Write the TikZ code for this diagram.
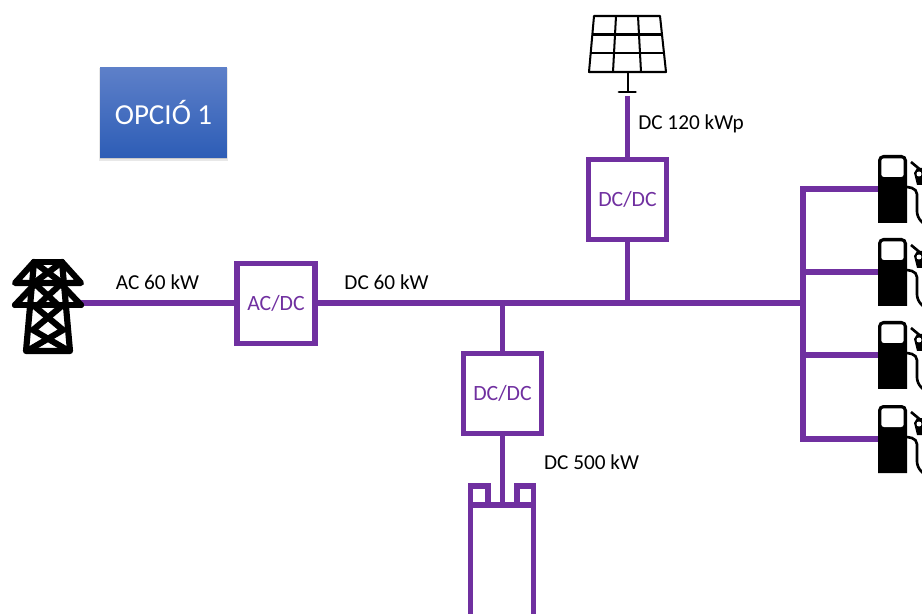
\documentclass[tikz,border=0pt]{standalone}
\usepackage{fontspec}
\setmainfont{Carlito}
\usetikzlibrary{calc,shadows}
\definecolor{buspurple}{HTML}{7030A0}
\definecolor{optA}{HTML}{5E80C9}
\definecolor{optB}{HTML}{2D5DB6}
\tikzset{
	bus/.style={draw=buspurple, line width=3.2pt},
	conv/.style={bus, text=buspurple, minimum width=1.56cm, minimum height=1.6cm, inner sep=0pt, outer sep=0pt, font=\fontsize{12.4}{14}\selectfont},
	lbl/.style={text=black, inner sep=0pt, font=\fontsize{12.1}{14}\selectfont},
	tower/.style={line width=3.5pt, line join=round, line cap=round},
	panel/.style={line width=1.15pt, line join=round},
	optbox/.style={top color=optA, bottom color=optB, draw=none, text=white, minimum width=2.54cm, minimum height=1.82cm,
		drop shadow={shadow xshift=0pt, shadow yshift=-1pt, shadow scale=1.02, opacity=0.18},
		drop shadow={shadow xshift=0pt, shadow yshift=-0.6pt, opacity=0.3},
		font=\fontsize{16.5}{20}\selectfont}
}
\def\pumpicon(#1,#2){
	\fill[black] (#1,#2+68) [rounded corners=3pt] -- (#1,#2) -- (#1+29,#2) [sharp corners] -- (#1+29,#2+68) -- cycle;
	\fill[white, rounded corners=1.5pt] (#1+3.3,#2+3.3) rectangle (#1+25.7,#2+22);
	\draw[line width=1.5pt, rounded corners=3pt] (#1+29,#2+32) -- (#1+39,#2+34) -- (#1+39,#2+62) -- (#1+45,#2+68);
	\draw[line width=1.5pt] (#1+33,#2+7) -- (#1+45,#2+17);
	\fill (#1+36,#2+18) -- (#1+39,#2+13) -- (#1+45,#2+13) -- (#1+45,#2+30) -- (#1+39,#2+30) -- cycle;
	\fill[white] (#1+41,#2+19) circle (2.5);
}
\begin{document}
\begin{tikzpicture}[x=0.02cm, y=-0.02cm]
	\useasboundingbox (0,0) rectangle (922,614);
	%%%%% option box %%%%%
	\node[optbox] (opcio) at (163.5,112.5) {OPCIÓ 1};

	%%%%% converters %%%%%
	\node[conv] (acdc) at (276,303.5) {AC/DC};
	\node[conv] (dcsolar) at (627.5,199.5) {DC/DC};
	\node[conv] (dcbatt) at (502.5,393.5) {DC/DC};

	%%%%% labels %%%%%
	\node[lbl] (lblgrid) at (157.5,282) {AC 60 kW};
	\node[lbl] (lblbus) at (386.5,282) {DC 60 kW};
	\node[lbl] (lblsolar) at (691,124) {DC 120 kWp};
	\node[lbl] (lblbatt) at (591.5,462) {DC 500 kW};

	%%%%% bus %%%%%
	\coordinate (grid) at (80,303);
	\coordinate (tapbatt) at (502.5,303);
	\coordinate (tapsolar) at (627.5,303);
	\coordinate (busend) at (803,303);
	\coordinate (solar) at (627.5,96);
	\coordinate (batt) at (502.5,505);
	\draw[bus] (grid) -- (grid -| acdc.west);
	\draw[bus] (acdc.east |- busend) -- (busend);
	\draw[bus] (tapbatt) -- (dcbatt.north);
	\draw[bus] (tapsolar) -- (dcsolar.south);
	\draw[bus] (solar) -- (dcsolar.north);
	\draw[bus] (dcbatt.south) -- (batt);

	%%%%% charger branches %%%%%
	\coordinate (railtop) at (803,189);
	\coordinate (railbot) at (803,439);
	\draw[bus, line cap=rect] (railtop) -- (railbot);
	\foreach \i/\y in {1/189,2/272,3/355,4/439}{
		\coordinate (pump\i) at (878,\y);
		\draw[bus] (803,\y) -- (pump\i);
		\pumpicon(878,\y-34)
	}

	%%%%% battery %%%%%
	\draw[bus] (470.5,505) rectangle (533.5,620);
	\draw[bus] (470.5,505) -- (470.5,486) -- (488,486) -- (488,505);
	\draw[bus] (517,505) -- (517,486) -- (533.5,486) -- (533.5,505);

	%%%%% pylon %%%%%
	\draw[tower] (34,262) -- (62,262);
	\draw[tower] (34,262) -- (15,283) -- (81,283) -- (62,262);
	\draw[tower] (15,305) -- (33,286) (81,305) -- (63,286);
	\draw[tower] (15,305) -- (81,305);
	\draw[tower] (34,262) -- (26,351) -- (70,351) -- (62,262);
	\draw[tower] (34,262) -- (62,283) -- (38,305) (62,262) -- (34,283) -- (58,305);
	\draw[tower] (33,305) -- (63,330) -- (27,351);
	\draw[tower] (63,305) -- (33,330) -- (69,351);

	%%%%% solar panel %%%%%
	\draw[panel] (594,16) -- (660,16) -- (666,72) -- (589,72) -- cycle;
	\draw[panel] (592,34.5) -- (662,34.5) (591,53) -- (664,53);
	\draw[panel] (616,16) -- (613,72) (638,16) -- (641,72);
	\draw[panel] (627.5,72) -- (627.5,92);
	\draw[line width=1.6pt, line cap=round] (619,92) -- (635.5,92);
\end{tikzpicture}
\end{document}
